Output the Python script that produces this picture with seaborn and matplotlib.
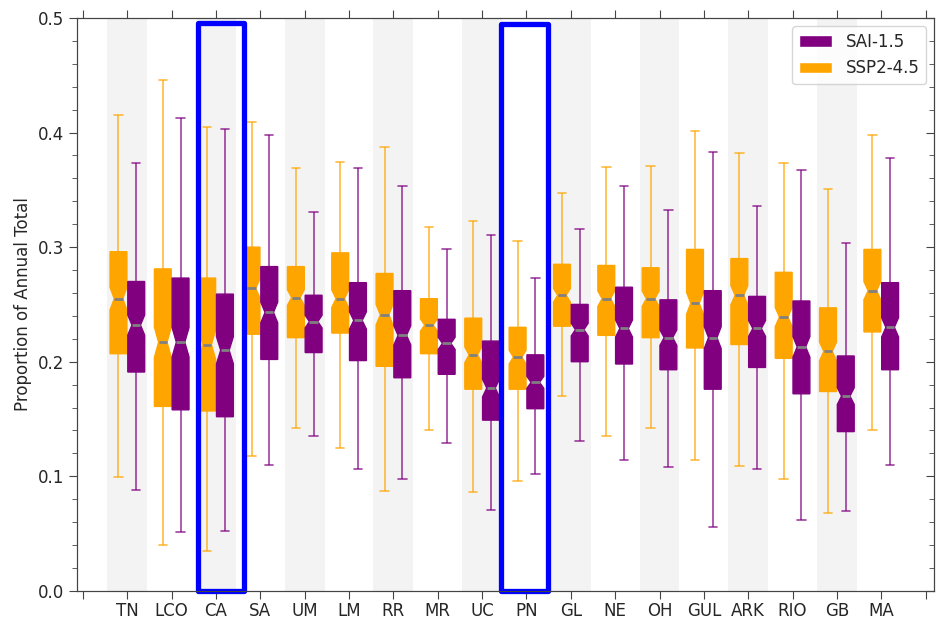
import numpy as np
import pandas as pd
import matplotlib
matplotlib.use("Agg")
import matplotlib.pyplot as plt
from matplotlib.patches import Patch, Rectangle
from matplotlib.ticker import MultipleLocator
import seaborn as sns

# regions along the x axis
regions = ["TN", "LCO", "CA", "SA", "UM", "LM", "RR", "MR", "UC", "PN",
           "GL", "NE", "OH", "GUL", "ARK", "RIO", "GB", "MA"]

# five-number summaries (min, q1, median, q3, max)
ssp_min = [0.099, 0.040, 0.035, 0.118, 0.142, 0.125, 0.087, 0.140, 0.086, 0.096,
           0.170, 0.135, 0.142, 0.114, 0.109, 0.098, 0.068, 0.140]
ssp_q1 = [0.207, 0.161, 0.157, 0.224, 0.221, 0.225, 0.196, 0.207, 0.176, 0.176,
          0.231, 0.223, 0.221, 0.212, 0.215, 0.203, 0.174, 0.226]
ssp_med = [0.255, 0.217, 0.215, 0.264, 0.256, 0.255, 0.241, 0.232, 0.206, 0.204,
           0.258, 0.255, 0.255, 0.251, 0.258, 0.239, 0.209, 0.262]
ssp_q3 = [0.296, 0.281, 0.273, 0.300, 0.283, 0.295, 0.277, 0.255, 0.238, 0.230,
          0.285, 0.284, 0.282, 0.298, 0.290, 0.278, 0.247, 0.298]
ssp_max = [0.415, 0.446, 0.405, 0.409, 0.369, 0.374, 0.387, 0.318, 0.323, 0.305,
           0.347, 0.370, 0.371, 0.401, 0.382, 0.373, 0.351, 0.398]

sai_min = [0.088, 0.051, 0.052, 0.110, 0.135, 0.106, 0.098, 0.129, 0.071, 0.102,
           0.131, 0.114, 0.108, 0.056, 0.106, 0.062, 0.070, 0.110]
sai_q1 = [0.191, 0.158, 0.152, 0.202, 0.208, 0.201, 0.186, 0.189, 0.149, 0.159,
          0.200, 0.198, 0.193, 0.176, 0.195, 0.172, 0.139, 0.193]
sai_med = [0.232, 0.217, 0.210, 0.243, 0.235, 0.236, 0.223, 0.216, 0.177, 0.182,
           0.228, 0.229, 0.221, 0.221, 0.229, 0.213, 0.170, 0.230]
sai_q3 = [0.270, 0.273, 0.259, 0.283, 0.258, 0.269, 0.262, 0.237, 0.218, 0.206,
          0.250, 0.265, 0.254, 0.262, 0.257, 0.253, 0.205, 0.269]
sai_max = [0.373, 0.413, 0.403, 0.398, 0.331, 0.369, 0.353, 0.298, 0.311, 0.273,
           0.316, 0.353, 0.332, 0.383, 0.336, 0.367, 0.304, 0.378]

scenarios = ["SSP2-4.5", "SAI-1.5"]
colors = {"SSP2-4.5": "orange", "SAI-1.5": "purple"}

# sample size behind each box (sets the notch width)
n_samples = 201
n_side = (n_samples - 3) // 2


def expand(name, lo, q1, med, q3, hi):
    rows = []
    for reg, a, b, c, d, e in zip(regions, lo, q1, med, q3, hi):
        vals = [a] + [b] * n_side + [c] + [d] * n_side + [e]
        rows += [(reg, name, v) for v in vals]
    return rows


rows = expand("SSP2-4.5", ssp_min, ssp_q1, ssp_med, ssp_q3, ssp_max)
rows += expand("SAI-1.5", sai_min, sai_q1, sai_med, sai_q3, sai_max)
df = pd.DataFrame(rows, columns=["region", "scenario", "value"])

sns.set_style("ticks")
plt.rcParams["font.family"] = ["DejaVu Sans"]

fig, ax = plt.subplots(figsize=(9.42, 6.2), dpi=100)
fig.subplots_adjust(left=0.082, right=0.992, bottom=0.047, top=0.971)

# alternating grey bands
for i in range(0, len(regions), 2):
    ax.axvspan(i - 0.45, i + 0.45, color="#f3f3f3", zorder=0, lw=0)

for sc in scenarios:
    c = colors[sc]
    sns.boxplot(
        data=df[df["scenario"] == sc], x="region", y="value",
        hue="scenario", hue_order=scenarios, palette=colors, dodge=True,
        order=regions, width=0.8, gap=0.05, whis=(0, 100),
        saturation=1, notch=True, showfliers=False, legend=False, ax=ax,
        boxprops=dict(facecolor=c, edgecolor=c, linewidth=1),
        medianprops=dict(color="gray", linewidth=2),
        whiskerprops=dict(color=c, linewidth=1.2, alpha=0.75),
        capprops=dict(color=c, linewidth=1.2, alpha=0.75),
    )

ax.set_xlim(-1.13, 18.2)
ax.set_ylim(0, 0.5)
ax.set_xticks(range(-1, len(regions) + 1))
ax.set_xticklabels([""] + regions + [""], fontsize=12)
ax.yaxis.set_major_locator(MultipleLocator(0.1))
ax.yaxis.set_minor_locator(MultipleLocator(0.02))
ax.tick_params(axis="y", labelsize=12)
ax.tick_params(which="major", length=6, color="#444444", direction="out")
ax.tick_params(which="minor", length=3.5, color="#444444", direction="out")
ax.tick_params(axis="x", top=True, pad=2)
ax.set_xlabel("")
ax.set_ylabel("Proportion of Annual Total", fontsize=12)
for s in ax.spines.values():
    s.set_color("#444444")
    s.set_visible(True)

# highlight boxes
for x0, x1, top in [(1.59, 2.63, 0.496), (8.43, 9.49, 0.495)]:
    ax.add_patch(Rectangle((x0, 0.0), x1 - x0, top, fill=False,
                           edgecolor="blue", lw=3.8, joinstyle="round",
                           clip_on=False, zorder=6))

handles = [Patch(facecolor="purple", label="SAI-1.5"),
           Patch(facecolor="orange", label="SSP2-4.5")]
ax.legend(handles=handles, loc="upper right", fontsize=12)

ax2 = ax.twinx()
ax2.set_ylim(0, 0.5)
ax2.yaxis.set_major_locator(MultipleLocator(0.1))
ax2.yaxis.set_minor_locator(MultipleLocator(0.02))
ax2.tick_params(which="major", direction="in", length=6, color="#444444", labelright=False)
ax2.tick_params(which="minor", direction="in", length=3.5, color="#444444")
for s in ax2.spines.values():
    s.set_color("#444444")

fig.savefig("out.png", dpi=100)
